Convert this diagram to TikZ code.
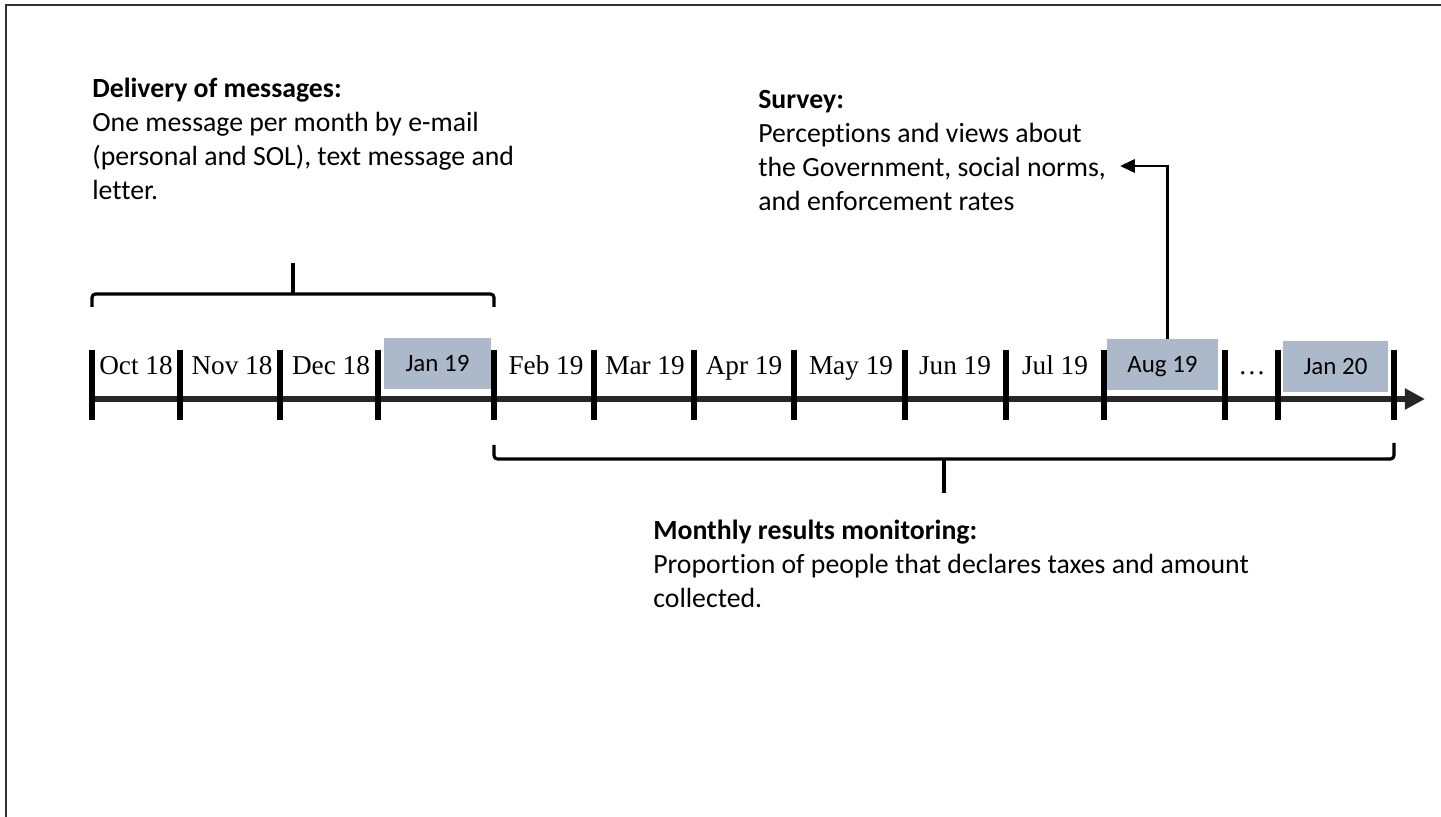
\documentclass[tikz,border=0pt]{standalone}
\usepackage{fontspec}
\setmainfont{Carlito}[Ligatures=NoCommon]
\newfontfamily\timesfont{Liberation Serif}
\usetikzlibrary{calc}
\usetikzlibrary{arrows.meta}

\definecolor{boxgray}{HTML}{ACB9CA}
\definecolor{axisgray}{HTML}{262626}

\begin{document}
\begin{tikzpicture}[x=0.02cm,y=-0.02cm,
    tickmark/.style={line width=2.9pt},
    axisline/.style={line width=2.9pt,axisgray,-{Triangle[length=11.4pt,width=11.4pt]}},
    bracket/.style={line width=1.8pt,rounded corners=2pt},
    month/.style={font=\timesfont\fontsize{15.5}{18}\selectfont,anchor=base,inner sep=0pt},
    shaded/.style={fill=boxgray,minimum width=#1,minimum height=29pt,inner sep=0pt,
      text height=9.5pt,text depth=0pt,font=\fontsize{14.2}{17}\selectfont},
    textblock/.style={anchor=north west,align=left,inner sep=0pt,font=\fontsize{15.8}{19.35}\selectfont},
    survarrow/.style={line width=1.7pt,-{Triangle[length=8.5pt,width=7.5pt]}}]
    \useasboundingbox (0,0) rectangle (1441,817);
    \draw[line width=1.1pt,black!80] (6,817) -- (6,5) -- (1441,5);

    \foreach \x [count=\i from 0] in {92,180,280,378,494,594,694,794,905,1006,1104,1225,1278,1394}
      \coordinate (t\i) at (\x,399);
    \coordinate (tend) at (1425,399);
    \draw[axisline] (t0) -- (tend);
    \foreach \i in {0,...,13}
      \draw[tickmark] ($(t\i)+(0,-49)$) -- ($(t\i)+(0,21)$);

    \foreach \n/\m/\x in {oct/Oct 18/136,nov/Nov 18/232,dec/Dec 18/331,feb/Feb 19/546,
        mar/Mar 19/645,apr/Apr 19/744,may/May 19/851,jun/Jun 19/955,jul/Jul 19/1055,dots/…/1252}
      \node[month] (\n) at (\x,375) {\m};
    \node[shaded=60.9pt] (jan19) at (437.5,363.5) {Jan 19};
    \node[shaded=63.2pt] (aug19) at (1162.5,364.5) {Aug 19};
    \node[shaded=59.8pt] (jan20) at (1335.5,366.5) {Jan 20};

    \draw[bracket] ($(t0)+(0,-92)$) -- ($(t0)+(0,-105)$) -- ($(t4)+(0,-105)$) -- ($(t4)+(0,-92)$);
    \draw[bracket] ($(t0)!0.5!(t4)+(0,-105)$) -- ++(0,-31);
    \draw[bracket] ($(t4)+(0,46)$) -- ($(t4)+(0,60)$) -- ($(t13)+(0,60)$) -- ($(t13)+(0,44)$);
    \draw[bracket] ($(t4)!0.5!(t13)+(0,60)$) -- ++(0,34);

    \node[textblock] (deliv) at (92,73.2) {\strut\textbf{Delivery of messages:}\\One message per month by e-mail\\(personal and SOL), text message and\\letter.};
    \node[textblock] (survey) at (758,84) {\strut\textbf{Survey:}\\Perceptions and views about\\the Government, social norms,\\and enforcement rates};
    \node[textblock] (monitor) at (653,515.2) {\strut\textbf{Monthly results monitoring:}\\Proportion of people that declares taxes and amount\\collected.};

    \coordinate (survtip) at (1120,166);
    \draw[survarrow] ($(aug19.north)+(5,0)$) |- (survtip);
  \end{tikzpicture}
\end{document}
